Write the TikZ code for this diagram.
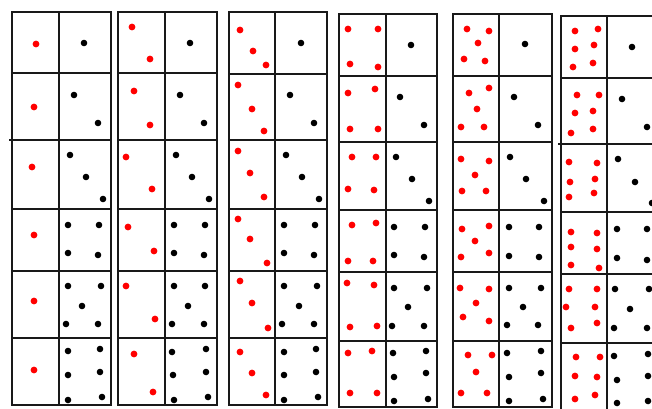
\documentclass[tikz,border=0pt]{standalone}
\tikzset{
  frame/.style={line width=1.5pt, draw=black!90, line cap=rect},
  rp/.style={fill=red},
  bp/.style={fill=black}
}
\newcommand\rpips[1]{\foreach \a/\b in {#1} \fill[rp] (\a,\b) circle (3.4pt);}
\newcommand\bpips[1]{\foreach \a/\b in {#1} \fill[bp] (\a,\b) circle (3.3pt);}
\newcommand\dcol[5]{% left, mid, right, top, bottom ; row lines follow separately
  \draw[frame] (#1,#4) rectangle (#3,#5);
  \draw[frame] (#2,#4) -- (#2,#5);}
\begin{document}
\begin{tikzpicture}[x=1pt,y=-1pt]
\useasboundingbox (0,0) rectangle (652,408);
\clip (0,0) rectangle (652,408);
\fill[white] (0,0) rectangle (652,408);
% ---------- column 1 ----------
\dcol{12}{59}{111}{12}{405}
\foreach \y in {73,209,271,338} \draw[frame] (12,\y) -- (111,\y);
\draw[frame] (10,140) -- (111,140);
\rpips{36/44,34/107,32/167,34/235,34/301,34/370}
\bpips{84/43, 74/95,98/123, 70/155,86/177,103/199,
  68/225,99/225,68/253,98/255,
  68/286,101/286,82/306,66/324,98/324,
  68/351,100/349,68/375,100/372,68/400,102/397}
% ---------- column 2 ----------
\dcol{118}{165}{217}{12}{405}
\foreach \y in {73,140,209,271,338} \draw[frame] (118,\y) -- (217,\y);
\rpips{132/27,150/59, 134/91,150/125, 126/157,152/189, 128/227,154/251,
  126/286,155/319, 134/354,153/392}
\bpips{190/43, 180/95,204/123, 176/155,192/177,209/199,
  174/225,205/225,174/253,204/255,
  174/286,205/286,188/306,172/324,204/324,
  172/352,206/349,173/375,206/372,174/400,208/397}
% ---------- column 3 ----------
\dcol{229}{275}{327}{12}{405}
\foreach \y in {74,140,209,271,338} \draw[frame] (229,\y) -- (327,\y);
\rpips{240/30,253/51,266/65, 238/85,252/109,264/131, 238/151,250/173,264/197,
  238/219,250/239,267/263, 240/281,252/303,268/328, 240/352,252/373,266/395}
\bpips{301/43, 290/95,314/123, 286/155,302/177,319/199,
  284/225,315/225,284/253,314/255,
  284/286,317/286,299/306,282/324,314/324,
  284/352,316/349,284/375,316/372,284/400,318/397}
% ---------- column 4 ----------
\dcol{339}{386}{437}{14}{407}
\foreach \y in {76,142,210,272,341} \draw[frame] (339,\y) -- (437,\y);
\rpips{348/29,378/29,350/64,378/67, 348/93,375/89,350/129,378/129,
  352/157,376/157,348/189,374/190, 352/225,376/223,348/261,373/261,
  347/283,374/285,350/327,377/326, 348/353,372/351,350/393,377/393}
\bpips{411/45, 400/97,424/125, 396/157,412/179,429/201,
  394/227,425/227,394/255,424/257,
  394/288,427/288,408/307,392/326,424/326,
  393/353,426/351,394/377,426/373,394/401,428/399}
% ---------- column 5 ----------
\dcol{453}{499}{552}{14}{407}
\foreach \y in {76,142,210,272,341} \draw[frame] (453,\y) -- (552,\y);
\rpips{467/29,489/31,478/43,464/59,485/61,
  469/93,489/88,477/109,461/127,484/127,
  461/159,489/161,475/175,462/191,486/191,
  462/229,489/226,475/241,461/257,489/253,
  460/288,489/289,476/303,463/317,489/321,
  468/355,492/355,476/372,461/393,487/393}
\bpips{525/44, 514/97,538/125, 510/157,526/179,544/201,
  509/227,539/227,509/256,539/257,
  509/288,541/288,523/307,507/325,538/325,
  507/353,541/351,509/377,541/373,509/401,543/399}
% ---------- column 6 ----------
\dcol{561}{607}{662}{16}{410}
\foreach \y in {78,212,274,343} \draw[frame] (561,\y) -- (662,\y);
\draw[frame] (559,144) -- (662,144);
\rpips{575/31,598/29,575/49,594/45,573/67,593/63,
  577/95,599/95,575/113,593/111,571/133,593/129,
  569/162,597/163,570/182,595/179,569/197,594/193,
  571/232,597/233,571/247,597/249,571/265,599/268,
  569/289,597/289,566/307,595/307,571/328,597/323,
  576/357,600/357,575/376,597/377,575/399,595/395}
\bpips{632/47, 622/99,647/127, 618/159,635/182,652/203,
  617/229,647/229,617/258,647/260,
  615/289,649/289,630/309,614/328,647/328,
  614/356,648/354,617/380,648/376,617/403,648/401}
\end{tikzpicture}
\end{document}
